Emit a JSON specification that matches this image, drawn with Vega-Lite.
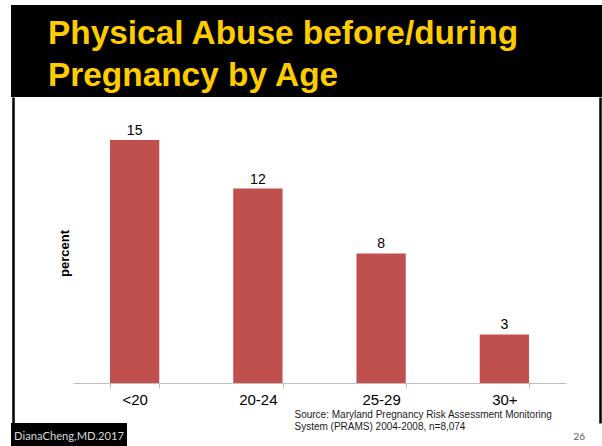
{
  "$schema": "https://vega.github.io/schema/vega-lite/v6.json",
  "background": "white",
  "padding": {"left": 11, "top": 5, "right": 0, "bottom": 0},
  "spacing": 0,
  "bounds": "flush",
  "config": {"view": {"stroke": null}, "axis": {"grid": false}},
  "vconcat": [
    {
      "width": 591,
      "height": 92,
      "view": {"fill": "black", "stroke": null},
      "data": {"values": [
        {"line": "Physical Abuse before/during", "row": 1},
        {"line": "Pregnancy by Age", "row": 2}
      ]},
      "mark": {"type": "text", "align": "left", "baseline": "alphabetic", "font": "Liberation Sans", "fontSize": 33.4, "fontWeight": "bold", "color": "#FFCC00"},
      "encoding": {
        "text": {"field": "line"},
        "x": {"datum": 0, "type": "quantitative", "scale": {"domain": [-0.0668, 1]}, "axis": null},
        "y": {"field": "row", "type": "ordinal", "axis": null, "scale": {"type": "point", "padding": 0.595, "align": 0.78}}
      }
    },
    {
      "width": 591,
      "height": 326,
      "view": {"fill": "white", "stroke": null},
      "data": {"values": [
        {"age": "<20", "pct": 15},
        {"age": "20-24", "pct": 12},
        {"age": "25-29", "pct": 8},
        {"age": "30+", "pct": 3}
      ]},
      "encoding": {
        "x": {
          "field": "age", "type": "nominal", "sort": null,
          "scale": {"range": [62, 555], "paddingInner": 0.6, "paddingOuter": 0.3},
          "axis": {
            "orient": "bottom", "offset": -40,
            "domainColor": "#BFBFBF", "domainWidth": 1,
            "tickColor": "#BFBFBF", "tickSize": 5, "tickBand": "extent",
            "labelFontSize": 15, "labelColor": "#000000", "labelFont": "Liberation Sans", "labelPadding": 4, "labelAngle": 0,
            "title": ["Source: Maryland Pregnancy Risk Assessment Monitoring", "System (PRAMS) 2004-2008, n=8,074"],
            "titleX": 283, "titleY": 26, "titleAlign": "left", "titleBaseline": "top", "titleAnchor": null,
            "titleFontSize": 10, "titleFontWeight": "normal", "titleFont": "Liberation Sans", "titleColor": "#1a1a1a", "titleLineHeight": 12.5
          }
        }
      },
      "layer": [
        {
          "mark": {"type": "bar", "color": "#C0504D"},
          "encoding": {
            "y": {
              "field": "pct", "type": "quantitative",
              "scale": {"domain": [-2.469, 17.654], "nice": false, "zero": false},
              "axis": {
                "orient": "left", "offset": -2, "domainColor": "#000000", "domainWidth": 2.5,
                "ticks": false, "labels": false, "grid": false,
                "title": "percent", "titleX": 51, "titleY": 156, "titleAngle": -90, "titleAlign": "center", "titleBaseline": "middle",
                "titleFontSize": 13, "titleFontWeight": "bold", "titleColor": "#000000", "titleFont": "Liberation Sans"
              }
            },
            "y2": {"datum": 0}
          }
        },
        {
          "mark": {"type": "text", "baseline": "alphabetic", "dy": -5, "font": "Liberation Sans", "fontSize": 14, "color": "#000000"},
          "encoding": {
            "y": {
              "field": "pct", "type": "quantitative",
              "axis": {
                "orient": "right", "offset": -2, "domainColor": "#000000", "domainWidth": 2.5,
                "ticks": false, "labels": false, "grid": false,
                "title": "26", "titleX": -27, "titleY": 339, "titleAngle": 0, "titleAlign": "left", "titleBaseline": "middle",
                "titleFontSize": 10, "titleFontWeight": "normal", "titleColor": "#595959", "titleFont": "Lato"
              }
            },
            "text": {"field": "pct", "type": "quantitative"}
          }
        }
      ],
      "resolve": {"axis": {"y": "independent"}}
    },
    {
      "width": 116,
      "height": 23,
      "view": {"fill": "black", "stroke": null},
      "data": {"values": [{"t": "DianaCheng,MD.2017"}]},
      "mark": {"type": "text", "align": "center", "baseline": "middle", "dy": 2, "font": "Lato", "fontSize": 11.2, "color": "#D9D9D9"},
      "encoding": {"text": {"field": "t"}}
    }
  ]
}
